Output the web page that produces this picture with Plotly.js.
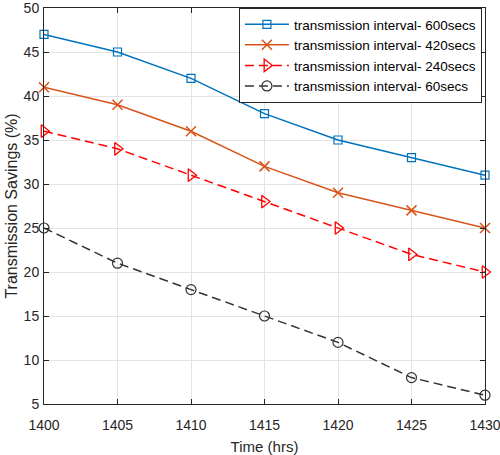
<!DOCTYPE html>
<html><head><meta charset="utf-8">
<script src="https://cdn.plot.ly/plotly-3.0.1.min.js"></script>
<style>html,body{margin:0;padding:0;background:#fff}#chart{width:500px;height:455px}</style>
</head><body><div id="chart"></div>
<script>
const time = [1400, 1405, 1410, 1415, 1420, 1425, 1430];
const s600 = [47, 45, 42, 38, 35, 33, 31];
const s420 = [41, 39, 36, 32, 29, 27, 25];
const s240 = [36, 34, 31, 28, 25, 22, 20];
const s60  = [25, 21, 18, 15, 12, 8, 6];
const yTicks = [5, 10, 15, 20, 25, 30, 35, 40, 45, 50];
const names = ['transmission interval- 600secs','transmission interval- 420secs','transmission interval- 240secs','transmission interval- 60secs'];

const FONT = 'Liberation Sans, Arial, sans-serif';

const traces = [
  {x: time, y: s600, name: names[0], mode: 'lines+markers', cliponaxis: false,
   line: {color: '#0072BD', width: 1.5},
   marker: {symbol: 'square-open', size: 8, color: '#0072BD', line: {width: 1.2}}},
  {x: time, y: s420, name: names[1], mode: 'lines+markers', cliponaxis: false,
   line: {color: '#D95319', width: 1.5},
   marker: {symbol: 'x-thin-open', size: 10, color: '#D95319', line: {width: 1.5, color: '#D95319'}}},
  {x: time, y: s240, name: names[2], mode: 'lines+markers', cliponaxis: false,
   line: {color: '#FF0000', width: 1.5, dash: '9px,5px'},
   marker: {symbol: 'triangle-right-open', size: 11, color: '#FF0000', line: {width: 1.3}}},
  {x: time, y: s60, name: names[3], mode: 'lines+markers', cliponaxis: false,
   line: {color: '#333333', width: 1.5, dash: '9px,5px'},
   marker: {symbol: 'circle-open', size: 10, color: '#333333', line: {width: 1.2}}}
];

const axisCommon = {
  showline: true, linecolor: '#262626', linewidth: 1, mirror: 'ticks',
  ticks: 'inside', ticklen: 5, tickcolor: '#262626',
  showgrid: true, gridcolor: '#e3e3e3', gridwidth: 1, zeroline: false,
  ticklabeloverflow: 'allow',
  tickfont: {family: FONT, size: 14, color: '#262626'}
};

const layout = {
  width: 500, height: 455,
  margin: {l: 44, r: 15, t: 8, b: 51},
  paper_bgcolor: '#fff', plot_bgcolor: '#fff',
  showlegend: true,
  xaxis: Object.assign({}, axisCommon, {
    range: [1400, 1430], tickvals: time, ticktext: time.map(String),
    ticklabelstandoff: 8,
    title: {text: 'Time (hrs)', standoff: 9, font: {family: FONT, size: 15, color: '#262626'}}
  }),
  yaxis: Object.assign({}, axisCommon, {
    range: [5, 50], tickvals: yTicks, ticktext: yTicks.map(String),
    ticklabelstandoff: 1,
    title: {text: 'Transmission Savings (%)', standoff: 2, font: {family: FONT, size: 16, color: '#262626'}}
  }),
  legend: {
    x: 0.993, y: 1.0, xanchor: 'right', yanchor: 'top',
    bgcolor: '#fff', bordercolor: '#262626', borderwidth: 1,
    font: {family: FONT, size: 13.5, color: '#000'},
    tracegroupgap: 0, itemwidth: 44
  }
};

Plotly.newPlot('chart', traces, layout, {displayModeBar: false, staticPlot: true});
</script></body></html>
